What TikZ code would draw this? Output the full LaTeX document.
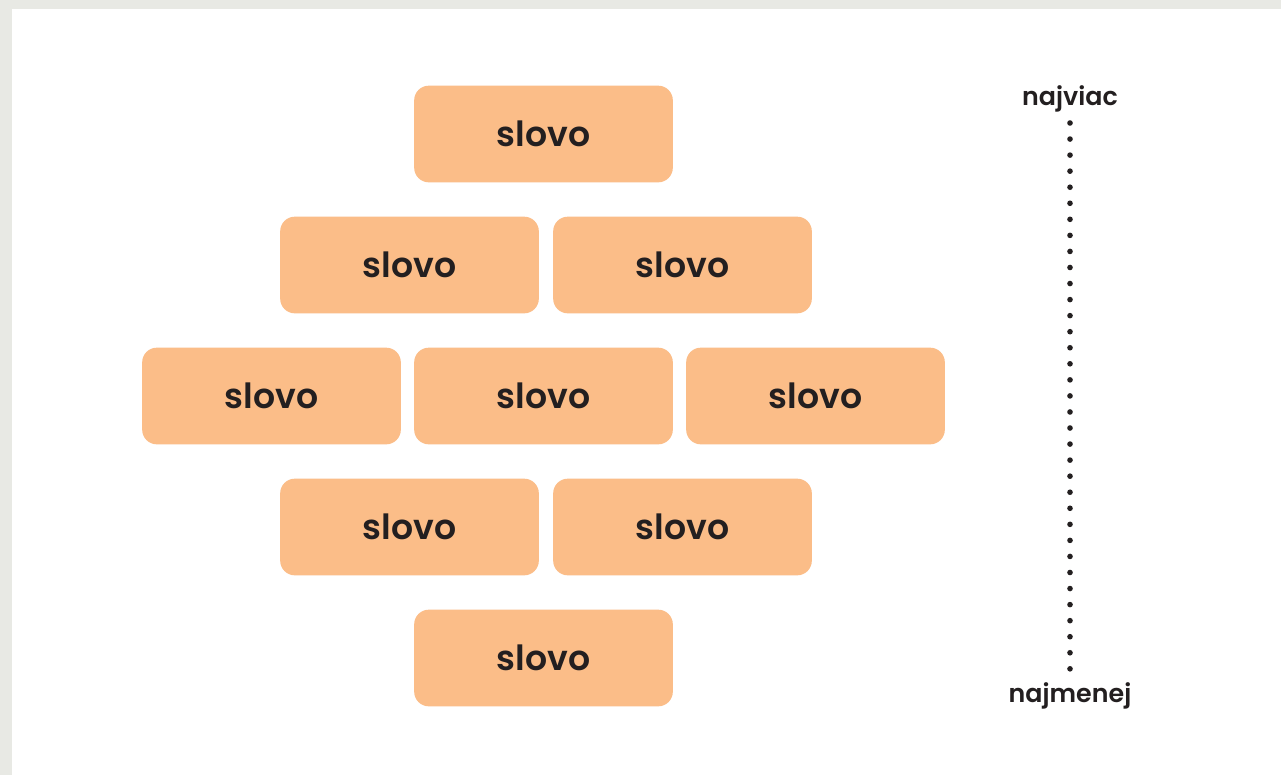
\documentclass[tikz,border=0pt]{standalone}
\usepackage{fontspec}
\setmainfont{Poppins}[BoldFont={Poppins SemiBold}]
\usetikzlibrary{positioning}
\definecolor{brick}{RGB}{251,189,136}
\definecolor{frame}{RGB}{232,233,228}
\definecolor{ink}{RGB}{35,31,32}

\begin{document}
\begin{tikzpicture} [x=0.75pt, y=-0.75pt,
    word/.style={fill=brick, rounded corners=11pt, minimum width=194pt,
      minimum height=72.5pt, inner sep=0pt, text=ink,
      font=\fontsize{26}{30}\selectfont\bfseries},
    scalelabel/.style={text=ink, inner sep=0pt,
      font=\fontsize{19}{22}\selectfont\bfseries},
    dots/.style={ink, line width=4.2pt, line cap=round,
      dash pattern=on 0pt off 12.04pt} ]
  % frame
  \fill[frame] (0,0) rectangle (1281,775);
  \fill[white] (12,9) rectangle (1281,775);
  % bricks
  \node[word] (w-1-1) at (543.5,134) {slovo};
  \node[word] (w-2-1) at (409.5,265) {slovo};
  \node[word] (w-2-2) at (682.5,265) {slovo};
  \node[word] (w-3-1) at (271.5,396) {slovo};
  \node[word] (w-3-2) at (543.5,396) {slovo};
  \node[word] (w-3-3) at (815.5,396) {slovo};
  \node[word] (w-4-1) at (409.5,527) {slovo};
  \node[word] (w-4-2) at (682.5,527) {slovo};
  \node[word] (w-5-1) at (543.5,658) {slovo};
  % scale
  \node[scalelabel] (most) at (1070,99) {najviac};
  \node[scalelabel] (least) at (1070,696) {najmenej};
  \coordinate (top) at (1070,123);
  \coordinate (bot) at (1070,669);
  \draw[dots] (top) -- (bot);
\end{tikzpicture}
\end{document}
